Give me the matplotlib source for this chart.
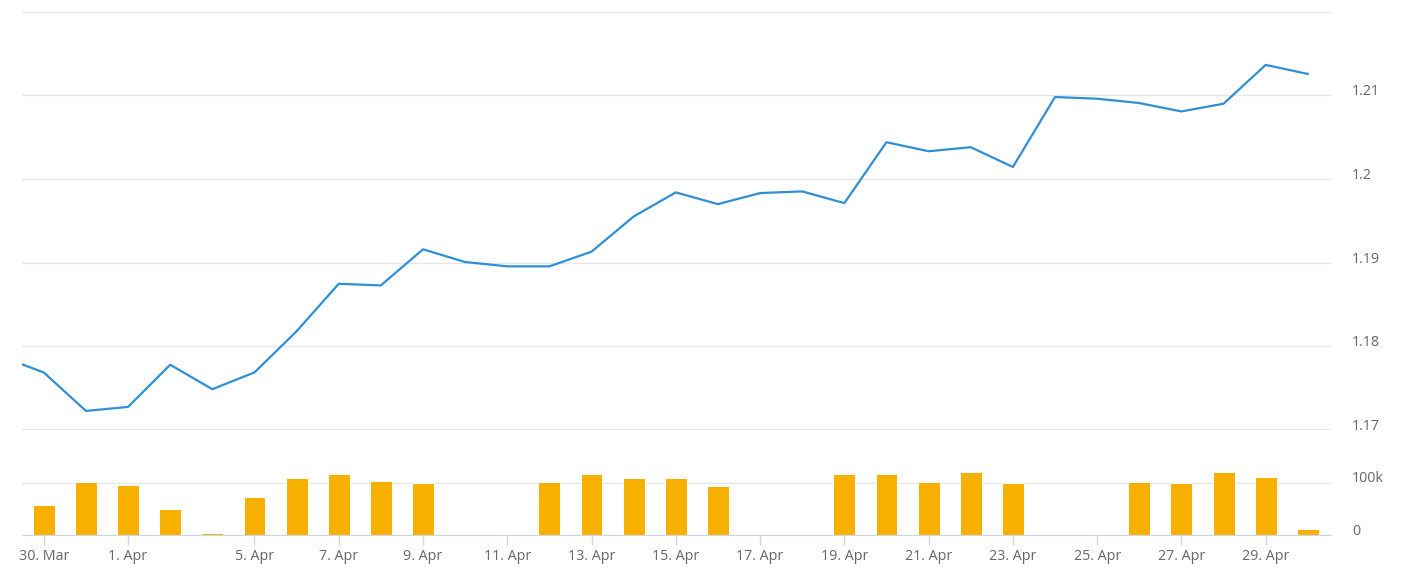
import numpy as np
import matplotlib
matplotlib.use("Agg")
import matplotlib.pyplot as plt

# trading days on an ordinal axis (first point sits just left of the view)
dates = ['29 Mar', '30 Mar', '31 Mar', '1 Apr', '2 Apr', '4 Apr', '5 Apr', '6 Apr', '7 Apr',
         '8 Apr', '9 Apr', '10 Apr', '11 Apr', '12 Apr', '13 Apr', '14 Apr', '15 Apr',
         '16 Apr', '17 Apr', '18 Apr', '19 Apr', '20 Apr', '21 Apr', '22 Apr', '23 Apr',
         '24 Apr', '25 Apr', '26 Apr', '27 Apr', '28 Apr', '29 Apr', '30 Apr']

price = [1.17876, 1.17688, 1.17228, 1.17276, 1.17780, 1.17488, 1.17688, 1.18180, 1.18748,
         1.18728, 1.19160, 1.19008, 1.18956, 1.18956, 1.19132, 1.19552, 1.19840,
         1.19700, 1.19832, 1.19852, 1.19712, 1.20440, 1.20332, 1.20380, 1.20144,
         1.20980, 1.20960, 1.20908, 1.20808, 1.20900, 1.21364, 1.21256]

volume = [np.nan, 57800, 101000, 95900, 48900, 3200, 72400, 108000, 115600,
          102900, 99000, np.nan, np.nan, 101000, 115600, 108000, 108000,
          93300, np.nan, np.nan, 115600, 115600, 101000, 120000, 98400,
          np.nan, np.nan, 101000, 98400, 120000, 110500, 10800]

tick_dates = ['30 Mar', '1 Apr', '5 Apr', '7 Apr', '9 Apr', '11 Apr', '13 Apr', '15 Apr',
              '17 Apr', '19 Apr', '21 Apr', '23 Apr', '25 Apr', '27 Apr', '29 Apr']
tick_labels = ['30. Mar', '1. Apr', '5. Apr', '7. Apr', '9. Apr', '11. Apr', '13. Apr',
               '15. Apr', '17. Apr', '19. Apr', '21. Apr', '23. Apr', '25. Apr',
               '27. Apr', '29. Apr']

price_ticks = [1.17, 1.18, 1.19, 1.20, 1.21]
price_labels = ['1.17', '1.18', '1.19', '1.2', '1.21']
vol_ticks = [0, 100000]
vol_labels = ['0', '100k']

plt.rcParams['font.family'] = ['Open Sans', 'DejaVu Sans']
W, H = 1404, 579
fig = plt.figure(figsize=(W / 100, H / 100), dpi=100)

left = 22 / W
width = (1331 - 22) / W
ax = fig.add_axes([left, 1 - 430 / H, width, (430 - 11.7) / H])
axv = fig.add_axes([left, 1 - 535 / H, width, (535 - 430) / H], sharex=ax)

x = np.arange(len(dates))
label_color = '#666666'
grid_color = '#e6e6e6'

ax.plot(x, price, color='#2f8fd5', lw=1.6, solid_joinstyle='round')
ax.set_ylim(1.17, 1.22)
ax.set_yticks(price_ticks + [1.22])
ax.set_yticklabels(price_labels + [''])
ax.grid(axis='y', color=grid_color, lw=1)
ax.axhline(1.17, color=grid_color, lw=2.2, zorder=0)

axv.bar(x, volume, width=0.52, color='#f7b000', edgecolor='white', linewidth=0.7)
axv.set_ylim(0, 200000)
axv.set_yticks(vol_ticks)
axv.set_yticklabels(vol_labels)
axv.grid(axis='y', color=grid_color, lw=1)

axv.set_xlim(0.483, 31.55)
tick_pos = [dates.index(d) for d in tick_dates]
axv.set_xticks(tick_pos)
axv.set_xticklabels(tick_labels)

for a in (ax, axv):
    a.set_axisbelow(True)
    for s in a.spines.values():
        s.set_visible(False)
    a.yaxis.tick_right()
    a.tick_params(axis='y', length=0, pad=15, labelsize=10.3, labelcolor=label_color)
    plt.setp(a.get_yticklabels(), va='baseline', ha='left')

ax.tick_params(axis='x', bottom=False, labelbottom=False)
axv.spines['bottom'].set_visible(True)
axv.spines['bottom'].set_color('#ccd6eb')
axv.tick_params(axis='x', length=7.5, width=1, color='#ccd6eb', pad=2.5,
                labelsize=10.3, labelcolor=label_color)

fig.savefig('out.png', dpi=100, facecolor='white')
